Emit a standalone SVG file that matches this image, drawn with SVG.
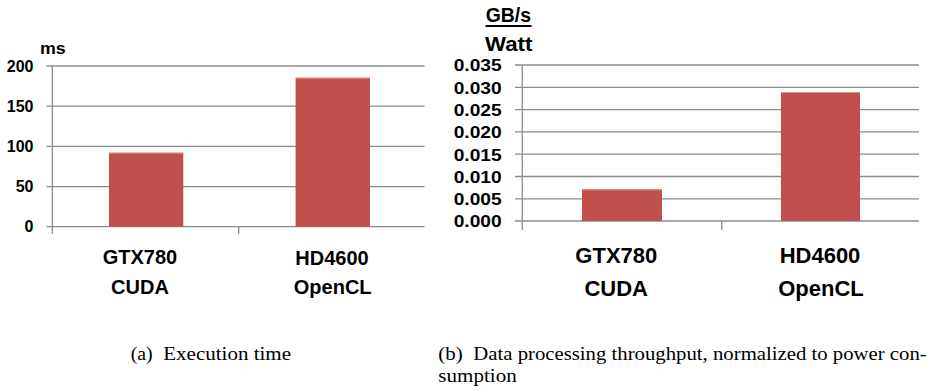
<svg xmlns="http://www.w3.org/2000/svg" width="929" height="391" viewBox="0 0 929 391">
<style>
.grid{stroke:#8C8C8C;stroke-width:1.3;fill:none}
.axis{stroke:#8C8C8C;stroke-width:1.3;fill:none}
.bar{fill:#C0504D}
.barTop{stroke:#D9918F;stroke-width:1}
.tick{font-family:"Liberation Sans",Arial,sans-serif;font-weight:bold;fill:#000;text-anchor:end}
.cat{font-family:"Liberation Sans",Arial,sans-serif;font-weight:bold;fill:#000;text-anchor:middle}
.unit{font-family:"Liberation Sans",Arial,sans-serif;font-weight:bold;fill:#000}
.cap{font-family:"Liberation Serif","Times New Roman",serif;font-size:19px;fill:#000}
</style>
<rect width="929" height="391" fill="#fff"/>

<!-- Left chart -->
<g id="chart-a">
  <g id="a-grid">
    <line class="grid" x1="46.5" y1="66" x2="424.5" y2="66"/>
    <line class="grid" x1="46.5" y1="106.2" x2="424.5" y2="106.2"/>
    <line class="grid" x1="46.5" y1="146.4" x2="424.5" y2="146.4"/>
    <line class="grid" x1="46.5" y1="186.6" x2="424.5" y2="186.6"/>
    <line class="grid" x1="46.5" y1="226.7" x2="424.5" y2="226.7"/>
  </g>
  <g id="a-axis">
    <line class="axis" x1="52.3" y1="66" x2="52.3" y2="234"/>
    <line class="axis" x1="238.7" y1="226.7" x2="238.7" y2="234"/>
  </g>
  <g id="a-ticks" font-size="16">
    <text class="tick" x="33.5" y="71.5">200</text>
    <text class="tick" x="33.5" y="111.7">150</text>
    <text class="tick" x="33.5" y="151.9">100</text>
    <text class="tick" x="33.5" y="192.1">50</text>
    <text class="tick" x="33.5" y="232.2">0</text>
  </g>
  <text id="a-unit" class="unit" x="40" y="54.3" font-size="17" textLength="25.7" lengthAdjust="spacingAndGlyphs">ms</text>
  <g id="a-bar-gtx780">
    <rect class="bar" x="109" y="152.7" width="74.3" height="74"/>
    <line class="barTop" x1="109" y1="153.2" x2="183.3" y2="153.2"/>
  </g>
  <g id="a-bar-hd4600">
    <rect class="bar" x="295.6" y="77.7" width="74.4" height="149"/>
    <line class="barTop" x1="295.6" y1="78.2" x2="370" y2="78.2"/>
  </g>
  <g id="a-labels" font-size="20">
    <text class="cat" x="140" y="264.3">GTX780</text>
    <text class="cat" x="140" y="294.3">CUDA</text>
    <text class="cat" x="332" y="265">HD4600</text>
    <text class="cat" x="332.7" y="294">OpenCL</text>
  </g>
</g>

<!-- Right chart -->
<g id="chart-b">
  <g id="b-grid">
    <line class="grid" x1="515" y1="65" x2="919" y2="65"/>
    <line class="grid" x1="515" y1="87.3" x2="919" y2="87.3"/>
    <line class="grid" x1="515" y1="109.6" x2="919" y2="109.6"/>
    <line class="grid" x1="515" y1="131.9" x2="919" y2="131.9"/>
    <line class="grid" x1="515" y1="154.2" x2="919" y2="154.2"/>
    <line class="grid" x1="515" y1="176.5" x2="919" y2="176.5"/>
    <line class="grid" x1="515" y1="198.8" x2="919" y2="198.8"/>
    <line class="grid" x1="515" y1="221" x2="919" y2="221"/>
  </g>
  <g id="b-axis">
    <line class="axis" x1="522.3" y1="65" x2="522.3" y2="230"/>
    <line class="axis" x1="721.7" y1="221" x2="721.7" y2="230"/>
  </g>
  <g id="b-ticks" font-size="17">
    <text class="tick" x="501.7" y="71.3" textLength="48" lengthAdjust="spacingAndGlyphs">0.035</text>
    <text class="tick" x="501.7" y="93.6" textLength="48" lengthAdjust="spacingAndGlyphs">0.030</text>
    <text class="tick" x="501.7" y="115.9" textLength="48" lengthAdjust="spacingAndGlyphs">0.025</text>
    <text class="tick" x="501.7" y="138.2" textLength="48" lengthAdjust="spacingAndGlyphs">0.020</text>
    <text class="tick" x="501.7" y="160.5" textLength="48" lengthAdjust="spacingAndGlyphs">0.015</text>
    <text class="tick" x="501.7" y="182.8" textLength="48" lengthAdjust="spacingAndGlyphs">0.010</text>
    <text class="tick" x="501.7" y="205.1" textLength="48" lengthAdjust="spacingAndGlyphs">0.005</text>
    <text class="tick" x="501.7" y="227.3" textLength="48" lengthAdjust="spacingAndGlyphs">0.000</text>
  </g>
  <g id="b-unit">
    <text class="unit" x="485.7" y="21.7" font-size="20" textLength="45.3" lengthAdjust="spacingAndGlyphs">GB/s</text>
    <line x1="485.5" y1="26" x2="531.5" y2="26" stroke="#000" stroke-width="2"/>
    <text class="unit" x="485" y="51" font-size="20" textLength="47.3" lengthAdjust="spacingAndGlyphs">Watt</text>
  </g>
  <g id="b-bar-gtx780">
    <rect class="bar" x="582" y="189.3" width="80" height="31.7"/>
    <line class="barTop" x1="582" y1="189.8" x2="662" y2="189.8"/>
  </g>
  <g id="b-bar-hd4600">
    <rect class="bar" x="781" y="92" width="79" height="129"/>
    <line class="barTop" x1="781" y1="92.5" x2="860" y2="92.5"/>
  </g>
  <g id="b-labels" font-size="22">
    <text class="cat" x="616.3" y="262.7">GTX780</text>
    <text class="cat" x="616.2" y="295.7">CUDA</text>
    <text class="cat" x="820" y="263">HD4600</text>
    <text class="cat" x="821" y="296">OpenCL</text>
  </g>
</g>

<!-- Captions -->
<g id="captions">
  <text class="cap" x="130.7" y="360" textLength="22" lengthAdjust="spacingAndGlyphs">(a)</text>
  <text class="cap" x="163.3" y="360" textLength="127.7" lengthAdjust="spacingAndGlyphs">Execution time</text>
  <text class="cap" x="438.3" y="360" textLength="24.4" lengthAdjust="spacingAndGlyphs">(b)</text>
  <text class="cap" x="473.3" y="360" textLength="453.4" lengthAdjust="spacingAndGlyphs">Data processing throughput, normalized to power con-</text>
  <text class="cap" x="438.3" y="381.7" textLength="78.4" lengthAdjust="spacingAndGlyphs">sumption</text>
</g>
</svg>
